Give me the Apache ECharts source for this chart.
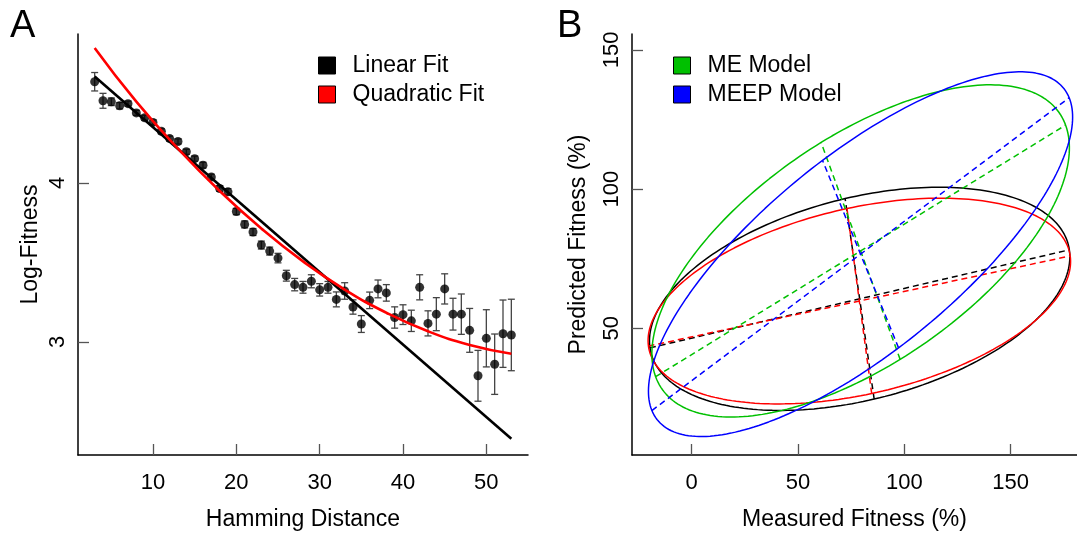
<!DOCTYPE html>
<html><head><meta charset="utf-8">
<script src="https://cdn.jsdelivr.net/npm/echarts@6/dist/echarts.min.js"></script>
<style>html,body{margin:0;padding:0;background:#fff}#c{width:1077px;height:536px}</style>
</head><body><div id="c"></div>
<script>
// ---------- Panel A data ----------
const hamming = [3,4,5,6,7,8,9,10,11,12,13,14,15,16,17,18,19,20,21,22,23,24,25,26,27,28,29,30,31,32,33,34,35,36,37,38,39,40,41,42,43,44,45,46,47,48,49,50,51,52,53];
const logFitness = [4.637,4.517,4.511,4.486,4.499,4.441,4.41,4.381,4.325,4.279,4.261,4.196,4.153,4.112,4.037,3.965,3.944,3.82,3.739,3.691,3.609,3.571,3.527,
  3.416,3.36,3.343,3.381,3.327,3.343,3.267,3.32,3.219,3.112,3.261,3.333,3.308,3.153,3.171,3.132,3.343,3.116,3.174,3.333,3.174,3.174,3.072,2.786,3.022,2.859,3.051,3.043];
const errHalf = [0.058,0.047,0.024,0.02,0.016,0.016,0.016,0.016,0.016,0.016,0.016,0.016,0.016,0.018,0.018,0.018,0.02,0.02,0.022,0.022,0.025,0.025,0.03,
  0.034,0.039,0.037,0.041,0.039,0.037,0.047,0.052,0.045,0.053,0.052,0.056,0.052,0.067,0.062,0.067,0.079,0.079,0.104,0.095,0.1,0.127,0.138,0.16,0.18,0.19,0.212,0.225];
const linearFitX = [3, 53];
const linearFitY = [4.67, 2.39];
const quadFitX = [3,8,13,18,23,28,33,38,43,48,53];
const quadFitY = [4.85,4.512,4.216,3.949,3.713,3.506,3.329,3.183,3.066,2.98,2.925];
const ticksA_x = [10,20,30,40,50];
const ticksA_y = [3,4];

// ---------- Panel B data (ellipse axis endpoints: major L, major R, minor T, minor B) ----------
const ellipseNames = ['Black', 'Red', 'ME Model', 'MEEP Model'];
const ellipseColors = ['#000000', '#ff0000', '#00c000', '#0000ff'];
const majorLeft  = [[-18.95,42.63],[-20.08,43.49],[-15.84,32.31],[-19.28,20.11]];
const majorRight = [[178.2,77.87],[178.2,75.87],[176.9,122.7],[176.9,132.5]];
const minorTop   = [[71.6,96.87],[72.87,93.06],[59.85,117.0],[62.2,110.6]];
const minorBot   = [[85.24,24.84],[84.49,26.62],[97.0,39.07],[97.93,43.24]];
const ticksB_x = [0,50,100,150];
const ticksB_y = [50,100,150];

const FONT = 'Liberation Sans, Arial, Helvetica, sans-serif';
const chart = echarts.init(document.getElementById('c'), null, {renderer:'canvas'});

const series = [];
// Panel A
series.push({
  type:'custom', xAxisIndex:0, yAxisIndex:0, silent:true, z:2,
  data: hamming.map((x,i)=>[x, logFitness[i]-errHalf[i], logFitness[i]+errHalf[i]]),
  renderItem: function(params, api){
    const lo = api.coord([api.value(0), api.value(1)]);
    const hi = api.coord([api.value(0), api.value(2)]);
    const w = 3.5;
    const st = {stroke:'#444', lineWidth:1.3};
    return {type:'group', children:[
      {type:'line', shape:{x1:lo[0],y1:lo[1],x2:hi[0],y2:hi[1]}, style:st},
      {type:'line', shape:{x1:lo[0]-w,y1:lo[1],x2:lo[0]+w,y2:lo[1]}, style:st},
      {type:'line', shape:{x1:hi[0]-w,y1:hi[1],x2:hi[0]+w,y2:hi[1]}, style:st}
    ]};
  }
});
series.push({
  type:'scatter', xAxisIndex:0, yAxisIndex:0, symbol:'circle', symbolSize:9, z:3,
  itemStyle:{color:'#000'}, data: hamming.map((x,i)=>[x, logFitness[i]])
});
series.push({
  name:'Linear Fit', type:'line', xAxisIndex:0, yAxisIndex:0, symbol:'none', z:4,
  lineStyle:{color:'#000', width:2.6}, itemStyle:{color:'#000'},
  data: linearFitX.map((x,i)=>[x, linearFitY[i]])
});
series.push({
  name:'Quadratic Fit', type:'line', xAxisIndex:0, yAxisIndex:0, symbol:'none', smooth:true, z:5,
  lineStyle:{color:'#ff0000', width:2.6}, itemStyle:{color:'#ff0000'},
  data: quadFitX.map((x,i)=>[x, quadFitY[i]])
});

// Panel B
for (let k=0;k<4;k++){
  const L=majorLeft[k], R=majorRight[k], T=minorTop[k], B=minorBot[k];
  const cx=(L[0]+R[0]+T[0]+B[0])/4, cy=(L[1]+R[1]+T[1]+B[1])/4;
  const ax=(R[0]-L[0])/2, ay=(R[1]-L[1])/2, bx=(T[0]-B[0])/2, by=(T[1]-B[1])/2;
  const pts=[];
  for(let i=0;i<=240;i++){const t=2*Math.PI*i/240; pts.push([cx+Math.cos(t)*ax+Math.sin(t)*bx, cy+Math.cos(t)*ay+Math.sin(t)*by]);}
  const col=ellipseColors[k];
  const nm = k>=2 ? ellipseNames[k] : undefined;
  series.push({name:nm, type:'line', xAxisIndex:1, yAxisIndex:1, symbol:'none', z:2+k,
    lineStyle:{color:col, width:1.5}, itemStyle:{color:col}, data:pts});
  series.push({type:'line', xAxisIndex:1, yAxisIndex:1, symbol:'none', z:2+k,
    lineStyle:{color:col, width:1.5, type:[6,4]}, data:[[cx-ax,cy-ay],[cx+ax,cy+ay]]});
  series.push({type:'line', xAxisIndex:1, yAxisIndex:1, symbol:'none', z:2+k,
    lineStyle:{color:col, width:1.5, type:[6,4]}, data:[[cx-bx,cy-by],[cx+bx,cy+by]]});
}

function xAxisCfg(idx, min, max, ticks, name){
  return {type:'value', gridIndex:idx, min:min, max:max, name:name, nameLocation:'middle', nameGap:53,
    nameTextStyle:{fontFamily:FONT, fontSize:23, color:'#000'},
    splitLine:{show:false},
    axisLine:{show:true, onZero:false, lineStyle:{color:'#000', width:1.5}},
    axisTick:{show:true, inside:true, length:11, customValues:ticks, lineStyle:{color:'#555', width:1.3}},
    axisLabel:{show:true, customValues:ticks, margin:17, fontFamily:FONT, fontSize:22, color:'#000'}};
}
function yAxisCfg(idx, min, max, ticks, name, gap){
  return {type:'value', gridIndex:idx, min:min, max:max, name:name, nameLocation:'middle', nameGap:gap, nameRotate:90,
    nameTextStyle:{fontFamily:FONT, fontSize:23, color:'#000'},
    splitLine:{show:false},
    axisLine:{show:true, onZero:false, lineStyle:{color:'#000', width:1.5}},
    axisTick:{show:true, inside:true, length:11, customValues:ticks, lineStyle:{color:'#555', width:1.3}},
    axisLabel:{show:true, customValues:ticks, rotate:90, margin:9, fontFamily:FONT, fontSize:22, color:'#000'}};
}

chart.setOption({
  animation:false,
  backgroundColor:'#fff',
  grid:[
    {left:78, top:34, width:450, height:425},
    {left:632, right:0, top:34, height:425}
  ],
  xAxis:[ xAxisCfg(0, 1, 55, ticksA_x, 'Hamming Distance'), xAxisCfg(1, -28, 181.2, ticksB_x, 'Measured Fitness (%)') ],
  yAxis:[ yAxisCfg(0, 2.2875, 4.9375, ticksA_y, 'Log-Fitness', 36), yAxisCfg(1, 4.45, 155.7, ticksB_y, 'Predicted Fitness (%)', 42) ],
  legend:[
    {data:['Linear Fit','Quadratic Fit'], orient:'vertical', left:313, top:49, icon:'rect', itemWidth:17, itemHeight:17, itemGap:6,
     itemStyle:{borderColor:'#000', borderWidth:1}, selectedMode:false,
     textStyle:{fontFamily:FONT, fontSize:23, color:'#000', padding:[0,0,0,12]}},
    {data:['ME Model','MEEP Model'], orient:'vertical', left:668, top:49, icon:'rect', itemWidth:17, itemHeight:17, itemGap:6,
     itemStyle:{borderColor:'#000', borderWidth:1}, selectedMode:false,
     textStyle:{fontFamily:FONT, fontSize:23, color:'#000', padding:[0,0,0,12]}}
  ],
  graphic:[
    {type:'text', left:10, top:8, style:{text:'A', font:'38px '+FONT, fill:'#000'}},
    {type:'text', left:557, top:8, style:{text:'B', font:'38px '+FONT, fill:'#000'}}
  ],
  series: series
});
</script></body></html>
